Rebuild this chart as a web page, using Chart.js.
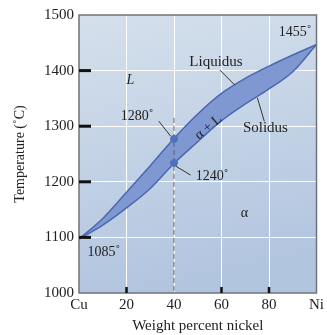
<!DOCTYPE html>
<html>
<head>
<meta charset="utf-8">
<script src="https://cdn.jsdelivr.net/npm/chart.js@4"></script>
<style>
  html, body { margin: 0; padding: 0; background: #fff; }
  #wrap { width: 327px; height: 335px; }
</style>
</head>
<body>
<div id="wrap"><canvas id="phase"></canvas></div>
<script>
// composition (wt% Ni) and the two boundary curves
const nickel = [0, 10, 20, 30, 40, 50, 60, 70, 80, 90, 100];
const liquidus = [1097, 1134, 1181, 1229, 1278, 1322, 1359, 1386, 1408, 1428, 1447];
const solidus = [1097, 1122, 1153, 1188, 1233, 1272, 1310, 1340, 1367, 1398, 1447];

// the 40% alloy
const alloyX = [40, 40];
const alloyT = [1277, 1234];
const dashedT = [1315, 1000];

const xTicks = [0, 20, 40, 60, 80, 100];
const yTicks = [1000, 1100, 1200, 1300, 1400, 1500];

// labels inside the diagram: text, x (wt%), T
const noteText = ['L', '1280˚', 'Liquidus', '1455˚', 'Solidus', '1240˚', 'α', '1085˚'];
const noteX = [21.6, 24.5, 57.7, 91, 78.5, 56, 69.7, 10.5];
const noteT = [1383, 1317, 1415, 1468, 1297, 1209, 1144, 1074];

// leader lines: [x1, T1, x2, T2]
const leaders = [
  [33.6, 1309, 38.6, 1282],
  [59.3, 1401, 65.6, 1374],
  [75.1, 1351, 78, 1309],
  [40.8, 1228, 47, 1212]
];

const serif = "'Liberation Serif', 'DejaVu Serif', serif";

const pts = (xs, ys) => xs.map((x, i) => ({ x: x, y: ys[i] }));

const plotBack = {
  id: 'plotBack',
  beforeDraw(chart) {
    const { ctx, chartArea: a } = chart;
    const g = ctx.createLinearGradient(a.left, a.top, a.left + 60, a.bottom);
    g.addColorStop(0, '#d5e0ec');
    g.addColorStop(1, '#b2c5df');
    ctx.save();
    ctx.fillStyle = g;
    ctx.fillRect(a.left, a.top, a.right - a.left, a.bottom - a.top);
    ctx.restore();
  },
  afterDraw(chart) {
    const { ctx, chartArea: a, scales } = chart;
    const xs = scales.x, ys = scales.y;
    ctx.save();
    // frame
    ctx.strokeStyle = '#6f747a';
    ctx.lineWidth = 1.5;
    ctx.strokeRect(a.left, a.top, a.right - a.left, a.bottom - a.top);
    // inward ticks
    ctx.strokeStyle = '#111';
    ctx.lineWidth = 3;
    [1100, 1200, 1300, 1400].forEach(t => {
      const y = ys.getPixelForValue(t);
      ctx.beginPath(); ctx.moveTo(a.left, y); ctx.lineTo(a.left + 12, y); ctx.stroke();
    });
    ctx.lineWidth = 2.5;
    [20, 60, 80].forEach(v => {
      const x = xs.getPixelForValue(v);
      ctx.beginPath(); ctx.moveTo(x, a.bottom); ctx.lineTo(x, a.bottom - 6); ctx.stroke();
    });
    // leaders
    ctx.strokeStyle = '#333';
    ctx.lineWidth = 1;
    leaders.forEach(l => {
      ctx.beginPath();
      ctx.moveTo(xs.getPixelForValue(l[0]), ys.getPixelForValue(l[1]));
      ctx.lineTo(xs.getPixelForValue(l[2]), ys.getPixelForValue(l[3]));
      ctx.stroke();
    });
    // text
    ctx.fillStyle = '#222';
    ctx.textAlign = 'center';
    ctx.textBaseline = 'middle';
    noteText.forEach((t, i) => {
      ctx.font = (t === 'L' ? 'italic ' : '') + (t === 'Liquidus' || t === 'Solidus' ? '15px ' : '14px ') + serif;
      ctx.fillText(t, xs.getPixelForValue(noteX[i]), ys.getPixelForValue(noteT[i]));
    });
    // alpha + L along the band
    ctx.save();
    ctx.translate(xs.getPixelForValue(54.5), ys.getPixelForValue(1298));
    ctx.rotate(-40 * Math.PI / 180);
    ctx.font = '14px ' + serif;
    ctx.fillText('α + L', 0, 0);
    ctx.restore();
    ctx.restore();
  }
};

new Chart(document.getElementById('phase'), {
  type: 'scatter',
  data: {
    datasets: [
      {
        data: pts(nickel, liquidus),
        showLine: true,
        borderColor: '#4a68b0',
        borderWidth: 1.5,
        backgroundColor: '#8098d1',
        fill: '+1',
        pointRadius: 0,
        cubicInterpolationMode: 'monotone',
        order: 3
      },
      {
        data: pts(nickel, solidus),
        showLine: true,
        borderColor: '#4a68b0',
        borderWidth: 1.5,
        fill: false,
        pointRadius: 0,
        cubicInterpolationMode: 'monotone',
        order: 2
      },
      {
        data: pts(alloyX, dashedT),
        showLine: true,
        borderColor: '#5a6270',
        borderWidth: 1,
        borderDash: [5, 3],
        pointRadius: 0,
        order: 1
      },
      {
        data: pts(alloyX, alloyT),
        showLine: false,
        pointRadius: 3.5,
        pointBackgroundColor: '#4f70bb',
        pointBorderColor: '#4f70bb',
        order: 0
      }
    ]
  },
  options: {
    responsive: true,
    maintainAspectRatio: false,
    animation: false,
    layout: { padding: { top: 15, right: 7, left: 0, bottom: 0 } },
    plugins: { legend: { display: false }, tooltip: { enabled: false } },
    scales: {
      x: {
        type: 'linear', min: 0, max: 100,
        afterFit: s => { s.height = 42; },
        afterBuildTicks: s => { s.ticks = xTicks.map(v => ({ value: v })); },
        grid: {
          drawTicks: false,
          color: c => (c.tick.value > 0 && c.tick.value < 100) ? '#ffffff' : 'rgba(0,0,0,0)',
          lineWidth: 1
        },
        border: { display: false },
        ticks: {
          padding: 3,
          color: '#222',
          font: { family: serif, size: 15 },
          callback: v => v === 0 ? 'Cu' : (v === 100 ? 'Ni' : String(v))
        },
        title: {
          display: true, text: 'Weight percent nickel', color: '#222',
          font: { family: serif, size: 15 }, padding: { top: 0, bottom: 0 }
        }
      },
      y: {
        type: 'linear', min: 1000, max: 1500,
        afterFit: s => { s.width = 79; },
        afterBuildTicks: s => { s.ticks = yTicks.map(v => ({ value: v })); },
        grid: {
          drawTicks: false,
          color: c => (c.tick.value > 1000 && c.tick.value < 1500) ? '#ffffff' : 'rgba(0,0,0,0)',
          lineWidth: 1
        },
        border: { display: false },
        ticks: {
          padding: 5,
          color: '#222',
          font: { family: serif, size: 15 },
          callback: v => String(v)
        },
        title: {
          display: true, text: 'Temperature (˚C)', color: '#222',
          font: { family: serif, size: 14 }, padding: { top: 12, bottom: 0 }
        }
      }
    }
  },
  plugins: [plotBack]
});
</script>
</body>
</html>
